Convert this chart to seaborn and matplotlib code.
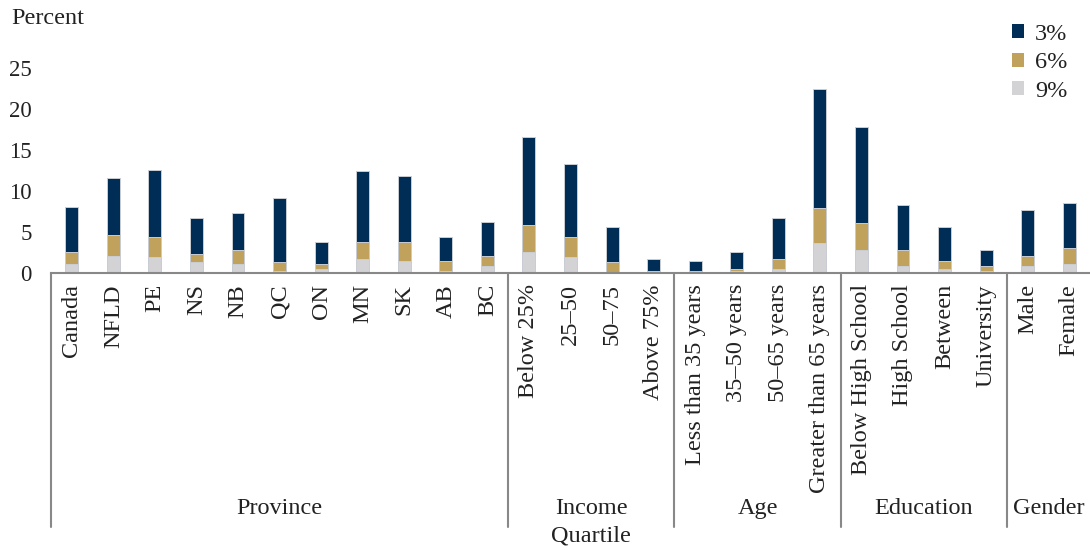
"""
plot.py

Overlapping bar chart: share of households by threshold (3%, 6%, 9%)
across province, income quartile, age, education and gender groups.
"""

import pandas as pd
import matplotlib
matplotlib.use("Agg")
import matplotlib.pyplot as plt
import matplotlib.transforms as mtransforms
import seaborn as sns

categories = [
    "Canada", "NFLD", "PE", "NS", "NB", "QC", "ON", "MN", "SK", "AB", "BC",
    "Below 25%", "25\u201350", "50\u201375", "Above 75%",
    "Less than 35 years", "35\u201350 years", "50\u201365 years", "Greater than 65 years",
    "Below High School", "High School", "Between", "University",
    "Male", "Female",
]
pct_3 = [8.1, 11.6, 12.6, 6.7, 7.3, 9.15, 3.8, 12.4, 11.8, 4.4, 6.25,
         16.6, 13.3, 5.65, 1.75,
         1.5, 2.55, 6.7, 22.5,
         17.8, 8.3, 5.65, 2.75,
         7.7, 8.5]
pct_6 = [2.55, 4.6, 4.4, 2.35, 2.75, 1.3, 1.1, 3.8, 3.8, 1.5, 2.1,
         5.8, 4.4, 1.3, 0.3,
         0.3, 0.5, 1.75, 7.9,
         6.05, 2.75, 1.5, 0.9,
         2.1, 3.0]
pct_9 = [1.1, 2.1, 1.95, 1.3, 1.1, 0.2, 0.5, 1.75, 1.5, 0.3, 0.9,
         2.55, 1.95, 0.15, 0.1,
         0.1, 0.3, 0.5, 3.6,
         2.75, 0.9, 0.5, 0.3,
         0.9, 1.1]
series = ["3%", "6%", "9%"]
groups = ["Province", "Income\nQuartile", "Age", "Education", "Gender"]
group_sizes = [11, 4, 4, 4, 2]

colors = ["#002D56", "#C1A25C", "#D3D3D5"]
FONT = ["Liberation Serif", "DejaVu Serif"]
FS = 17.5
FS_Y = 16.5


def main():
    df = pd.DataFrame({
        "category": categories * 3,
        "series": [s for s in series for _ in categories],
        "value": pct_3 + pct_6 + pct_9,
    })

    sns.set_style("white")
    plt.rcParams["font.family"] = FONT
    plt.rcParams["text.color"] = "#222222"

    fig = plt.figure(figsize=(10.9, 5.5), dpi=100)
    ax = fig.add_axes([51 / 1090, 1 - 273 / 550, 1039 / 1090, 246 / 550])

    sns.barplot(data=df, x="category", y="value", hue="series", order=categories,
                hue_order=series, palette=colors, saturation=1, dodge=False, width=0.31,
                edgecolor="#C9CDD3", linewidth=0.7, errorbar=None, ax=ax)

    ax.set_xlim(-0.5, len(categories) - 0.5)
    ax.set_ylim(0, 30)
    ax.set_yticks([0, 5, 10, 15, 20, 25])
    ax.set_xlabel("")
    ax.set_ylabel("")
    ax.tick_params(axis="y", length=0, pad=14, labelsize=FS_Y, labelcolor="#222222")
    ax.tick_params(axis="x", length=0, pad=8, labelsize=FS, labelcolor="#222222")
    ax.set_xticks(range(len(categories)))
    ax.set_xticklabels(categories, rotation=90, va="top", ha="center")

    for side in ["top", "right", "left"]:
        ax.spines[side].set_visible(False)
    ax.spines["bottom"].set_color("#888888")
    ax.spines["bottom"].set_linewidth(1.5)

    fig.text(11 / 1090, 1 - 18 / 550, "Percent", fontsize=FS, va="center", ha="left")

    # group separators and group labels below the tick labels
    trans = mtransforms.blended_transform_factory(ax.transData, fig.transFigure)
    y_top = 1 - 273 / 550
    y_bot = 1 - 527 / 550
    start = -0.5
    for name, n in zip(groups, group_sizes):
        ax.plot([start, start], [y_top, y_bot], transform=trans, color="#888888",
                lw=1.5, clip_on=False)
        ax.text(start + n / 2, 1 - 498 / 550, name, transform=trans, ha="center",
                va="top", fontsize=FS, linespacing=1.4)
        start += n

    leg = ax.legend(loc="upper left", bbox_to_anchor=(995 / 1090, 1 - 7 / 550),
                    bbox_transform=fig.transFigure, frameon=False, fontsize=FS,
                    handlelength=0.5, handleheight=0.5, handletextpad=0.45,
                    labelspacing=0.3, borderpad=0.2)
    for h in leg.legend_handles:
        h.set_edgecolor("none")

    fig.savefig("out.png", dpi=100)
    plt.close(fig)


if __name__ == "__main__":
    main()
